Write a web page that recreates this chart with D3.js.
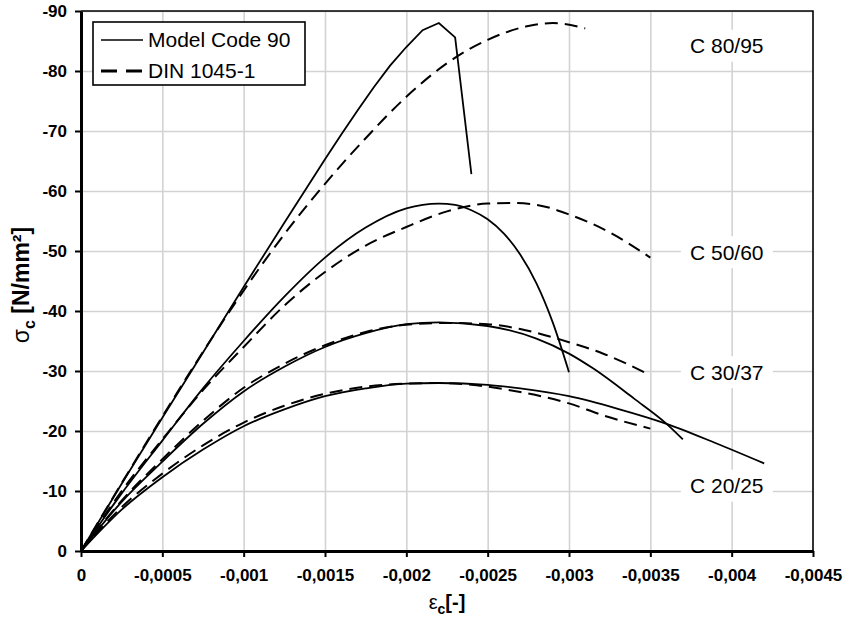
<!DOCTYPE html>
<html>
<head>
<meta charset="utf-8">
<script src="https://cdnjs.cloudflare.com/ajax/libs/d3/7.8.5/d3.min.js"></script>
<style>
  body { margin: 0; background: #fff; }
  text { font-family: "Liberation Sans", Arial, sans-serif; }
  .grid line { stroke: #d3d3d3; stroke-width: 1.6px; }
  .grid path { display: none; }
  .axis text { font-size: 17px; font-weight: bold; fill: #000; }
</style>
</head>
<body>
<div id="chart"></div>
<script>
// strain eps_c [-] / stress sigma_c [N/mm2]
var mc90_C20 = [[0,0],[-0.00025,-6.9],[-0.0005,-12.3],[-0.00075,-16.9],[-0.001,-20.8],[-0.00125,-23.6],
  [-0.0015,-25.8],[-0.00175,-27.1],[-0.002,-27.9],[-0.0022,-28.0],[-0.0025,-27.7],[-0.0027,-27.1],
  [-0.003,-25.8],[-0.0033,-23.7],[-0.0036,-21.2],[-0.0039,-18.0],[-0.0042,-14.6]];
var mc90_C30 = [[0,0],[-0.00025,-8.2],[-0.0005,-14.9],[-0.00075,-21.2],[-0.001,-26.6],[-0.00125,-30.7],
  [-0.0015,-34.0],[-0.00175,-36.3],[-0.002,-37.8],[-0.0022,-38.1],[-0.0025,-37.5],[-0.0028,-35.4],
  [-0.003,-32.9],[-0.00315,-30.4],[-0.0034,-25.4],[-0.0036,-21.2],[-0.0037,-18.6]];
var mc90_C50 = [[0,0],[-0.00025,-9.6],[-0.0005,-18.4],[-0.00075,-27.1],[-0.001,-35.0],[-0.00125,-42.4],
  [-0.0015,-48.9],[-0.00175,-53.9],[-0.002,-57.1],[-0.0022,-57.9],[-0.0023,-57.7],[-0.0024,-56.8],
  [-0.0025,-55.3],[-0.0026,-52.9],[-0.0027,-49.4],[-0.0028,-44.6],[-0.0029,-38.1],[-0.003,-29.8]];
var mc90_C80 = [[0,0],[-0.00025,-11.2],[-0.0005,-22.2],[-0.00075,-33.1],[-0.001,-44.0],[-0.00125,-54.7],
  [-0.0015,-65.3],[-0.0016,-69.4],[-0.0017,-73.4],[-0.0018,-77.3],[-0.0019,-80.9],[-0.002,-84.0],
  [-0.0021,-86.8],[-0.0022,-88.0],[-0.0023,-85.6],[-0.0024,-62.8]];

var din_C20 = [[0,0],[-0.00025,-7.3],[-0.0005,-12.9],[-0.00075,-17.6],[-0.001,-21.4],[-0.00125,-24.2],
  [-0.0015,-26.2],[-0.00175,-27.4],[-0.002,-27.9],[-0.0022,-28.0],[-0.0024,-27.7],[-0.0027,-26.5],
  [-0.003,-24.6],[-0.0032,-22.7],[-0.0035,-20.4]];
var din_C30 = [[0,0],[-0.00025,-8.4],[-0.0005,-15.3],[-0.00075,-21.7],[-0.001,-27.2],[-0.00125,-31.2],
  [-0.0015,-34.3],[-0.00175,-36.5],[-0.002,-37.7],[-0.00225,-38.0],[-0.0025,-37.8],[-0.0027,-37.0],
  [-0.003,-34.8],[-0.0032,-33.0],[-0.0035,-29.3]];
var din_C50 = [[0,0],[-0.00025,-10.0],[-0.0005,-18.6],[-0.00075,-26.8],[-0.001,-34.0],[-0.00125,-40.9],
  [-0.0015,-46.5],[-0.00175,-50.9],[-0.002,-54.0],[-0.00225,-56.6],[-0.0025,-57.9],[-0.00265,-58.0],
  [-0.0028,-57.7],[-0.003,-56.1],[-0.00325,-53.1],[-0.0035,-48.9]];
var din_C80 = [[0,0],[-0.00025,-11.3],[-0.0005,-22.4],[-0.00075,-33.2],[-0.001,-43.4],[-0.00125,-52.8],
  [-0.0015,-61.2],[-0.00175,-68.8],[-0.002,-75.7],[-0.00225,-81.3],[-0.0025,-85.2],[-0.00275,-87.5],
  [-0.0029,-88.0],[-0.0031,-87.1]];

var xTicks = [0, -0.0005, -0.001, -0.0015, -0.002, -0.0025, -0.003, -0.0035, -0.004, -0.0045];
var yTicks = [0, -10, -20, -30, -40, -50, -60, -70, -80, -90];
var gradeNames = ["C 80/95", "C 50/60", "C 30/37", "C 20/25"];
var gradeStress = [-84.2, -49.8, -29.8, -10.9];
var gradeStrain = -0.00397;
var legendNames = ["Model Code 90", "DIN 1045-1"];

// set the dimensions and margins of the graph
var margin = {top: 11, right: 33, bottom: 67, left: 81},
    width = 846 - margin.left - margin.right,
    height = 618 - margin.top - margin.bottom;

var svg = d3.select("#chart")
  .append("svg")
    .attr("width", width + margin.left + margin.right)
    .attr("height", height + margin.top + margin.bottom)
  .append("g")
    .attr("transform", "translate(" + margin.left + "," + margin.top + ")");

var x = d3.scaleLinear().domain([0, -0.0045]).range([0, width]);
var y = d3.scaleLinear().domain([0, -90]).range([height, 0]);

// gridlines
svg.append("g")
  .attr("class", "grid")
  .attr("transform", "translate(0," + height + ")")
  .call(d3.axisBottom(x).tickValues(xTicks.slice(1, -1)).tickSize(-height).tickFormat(""));
svg.append("g")
  .attr("class", "grid")
  .call(d3.axisLeft(y).tickValues(yTicks.slice(1)).tickSize(-width).tickFormat(""));

// white boxes behind the grade labels
svg.selectAll(".gradebox")
  .data(gradeNames)
  .enter()
  .append("rect")
    .attr("x", x(gradeStrain) - 46)
    .attr("y", function(d, i) { return y(gradeStress[i]) - 16; })
    .attr("width", 92)
    .attr("height", 32)
    .style("fill", "#fff");

svg.selectAll(".grade")
  .data(gradeNames)
  .enter()
  .append("text")
    .attr("x", x(gradeStrain))
    .attr("y", function(d, i) { return y(gradeStress[i]); })
    .attr("dy", "0.35em")
    .style("text-anchor", "middle")
    .style("font-size", "21px")
    .text(function(d) { return d; });

// frame: thin top/right
svg.append("path")
  .attr("d", "M0,0H" + width + "V" + height)
  .style("fill", "none")
  .style("stroke", "#000")
  .style("stroke-width", 1.6);

// axes
var fmt = function(d) { return String(d).replace(".", ","); };
svg.append("g")
  .attr("class", "axis")
  .attr("transform", "translate(0," + height + ")")
  .call(d3.axisBottom(x).tickValues(xTicks).tickSize(6).tickSizeOuter(0).tickPadding(12).tickFormat(fmt));
svg.append("g")
  .attr("class", "axis")
  .call(d3.axisLeft(y).tickValues(yTicks).tickSize(6).tickSizeOuter(0).tickPadding(8).tickFormat(fmt));
svg.selectAll(".axis path").style("stroke-width", 3);
svg.selectAll(".axis line").style("stroke-width", 2);

// curves (the C 80/95 Model Code curve keeps its sharp corners)
var series = [
  {data: mc90_C20, dash: null, curve: d3.curveMonotoneX},
  {data: mc90_C30, dash: null, curve: d3.curveMonotoneX},
  {data: mc90_C50, dash: null, curve: d3.curveMonotoneX},
  {data: mc90_C80, dash: null, curve: d3.curveLinear},
  {data: din_C20, dash: "13,7", curve: d3.curveMonotoneX},
  {data: din_C30, dash: "13,7", curve: d3.curveMonotoneX},
  {data: din_C50, dash: "13,7", curve: d3.curveMonotoneX},
  {data: din_C80, dash: "13,7", curve: d3.curveMonotoneX}
];

svg.selectAll(".curve")
  .data(series)
  .enter()
  .append("path")
    .attr("d", function(d) {
      return d3.line()
        .x(function(p) { return x(p[0]); })
        .y(function(p) { return y(p[1]); })
        .curve(d.curve)(d.data);
    })
    .style("fill", "none")
    .style("stroke", "#000")
    .style("stroke-width", function(d) { return d.dash ? 2 : 1.8; })
    .style("stroke-dasharray", function(d) { return d.dash; });

// legend
var legend = svg.append("g").attr("transform", "translate(12,11)");
legend.append("rect")
  .attr("width", 212)
  .attr("height", 63)
  .style("fill", "#fff")
  .style("stroke", "#000")
  .style("stroke-width", 1.6);
legendNames.forEach(function(name, i) {
  var ly = 18 + i * 31;
  legend.append("line")
    .attr("x1", 8).attr("x2", 50)
    .attr("y1", ly).attr("y2", ly)
    .style("stroke", "#000")
    .style("stroke-width", i ? 3 : 1.4)
    .style("stroke-dasharray", i ? "16,9" : null);
  legend.append("text")
    .attr("x", 55)
    .attr("y", ly)
    .attr("dy", "0.35em")
    .style("font-size", "21px")
    .text(name);
});

// axis titles
var xt = svg.append("text")
  .attr("x", width / 2)
  .attr("y", height + 58)
  .style("text-anchor", "middle")
  .style("font-size", "20px")
  .style("font-weight", "bold");
xt.append("tspan").style("font-weight", "normal").text("ε");
xt.append("tspan").attr("dy", 5).style("font-size", "14px").text("c");
xt.append("tspan").attr("dy", -5).text("[-]");

var yt = svg.append("text")
  .attr("transform", "translate(-52," + (height / 2 + 4) + ") rotate(-90)")
  .style("text-anchor", "middle")
  .style("font-size", "23px")
  .style("font-weight", "bold");
yt.append("tspan").style("font-weight", "normal").text("σ");
yt.append("tspan").attr("dy", 6).style("font-size", "16px").text("c");
yt.append("tspan").attr("dy", -6).text(" [N/mm²]");
</script>
</body>
</html>
